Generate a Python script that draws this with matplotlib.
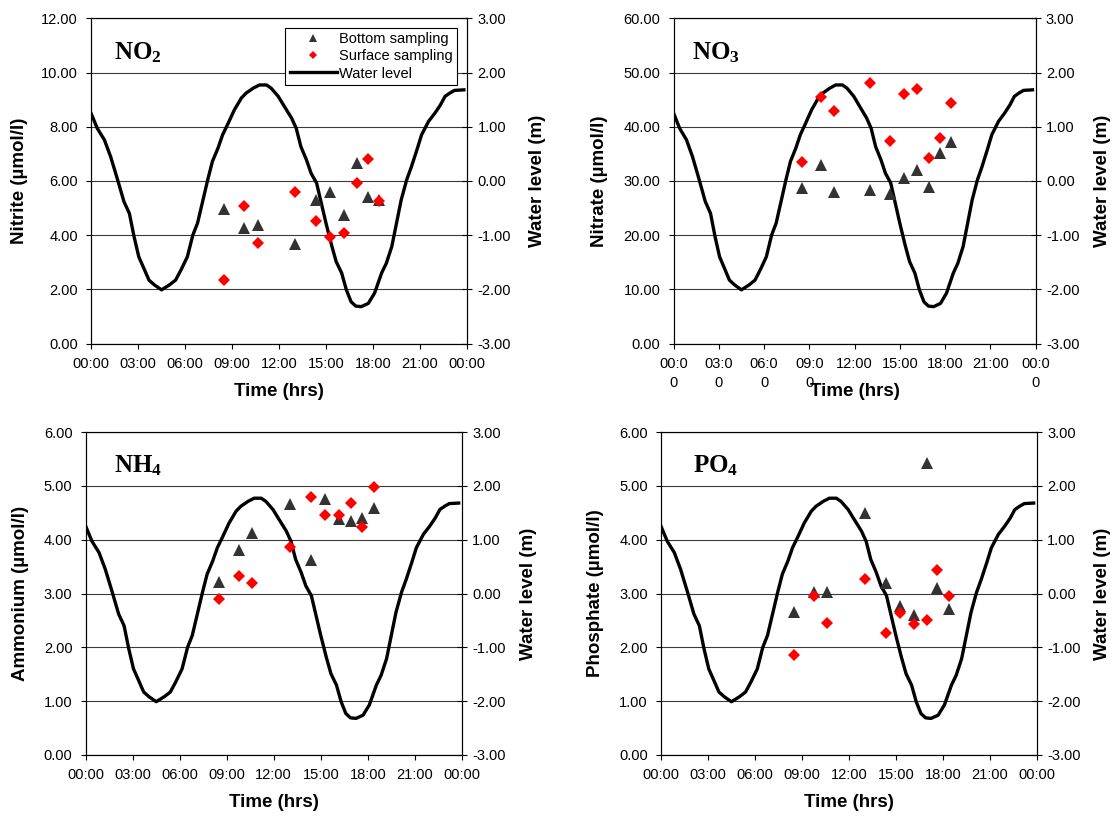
import matplotlib.pyplot as plt
from matplotlib.lines import Line2D

plt.rcParams['font.family'] = ['Liberation Sans', 'DejaVu Sans']
plt.rcParams['mathtext.fontset'] = 'custom'
plt.rcParams['mathtext.bf'] = 'Liberation Serif:bold'
plt.rcParams['mathtext.rm'] = 'Liberation Serif:bold'

# sampling times (hours of the day)
sample_hours = [8.50, 9.77, 10.63, 13.04, 14.37, 15.27, 16.14, 16.96, 17.65, 18.38]

no2_bottom = [4.98, 4.25, 4.37, 3.69, 5.29, 5.60, 4.76, 6.65, 5.42, 5.29]
no2_surface = [2.34, 5.07, 3.72, 5.60, 4.53, 3.94, 4.06, 5.93, 6.79, 5.26]

no3_bottom = [28.6, 32.9, 27.9, 28.3, 27.6, 30.6, 32.0, 28.9, 35.1, 37.2]
no3_surface = [33.4, 45.5, 42.9, 48.0, 37.4, 46.0, 47.0, 34.3, 38.0, 44.3]

nh4_bottom = [3.22, 3.81, 4.13, 4.66, 3.62, 4.76, 4.38, 4.35, 4.40, 4.59]
nh4_surface = [2.90, 3.33, 3.20, 3.86, 4.79, 4.46, 4.46, 4.69, 4.23, 4.97]

po4_bottom = [2.66, 3.03, 3.02, 4.49, 3.19, 2.77, 2.60, 5.43, 3.11, 2.72]
po4_surface = [1.86, 2.95, 2.46, 3.27, 2.26, 2.63, 2.43, 2.50, 3.44, 2.96]

# water level record (m)
tide_hours = [0.0, 0.4, 0.85, 1.25, 1.7, 2.1, 2.45, 2.75, 3.05, 3.4, 3.7, 4.05,
              4.5, 5.0, 5.4, 5.75, 6.15, 6.5, 6.8, 7.15, 7.45, 7.75, 8.1, 8.4,
              8.75, 9.15, 9.6, 9.9, 10.35, 10.75, 11.2, 11.5, 11.95, 12.35,
              12.8, 13.1, 13.4, 13.75, 14.05, 14.4, 14.7, 15.0, 15.35, 15.65,
              16.0, 16.3, 16.6, 16.9, 17.25, 17.7, 18.1, 18.55, 18.85, 19.2,
              19.5, 19.8, 20.15, 20.45, 20.8, 21.1, 21.55, 21.95, 22.3, 22.6,
              22.9, 23.2, 23.8]
tide_level = [1.25, 0.97, 0.76, 0.45, 0.02, -0.38, -0.60, -1.03, -1.40, -1.63,
              -1.83, -1.92, -2.01, -1.92, -1.83, -1.64, -1.40, -1.00, -0.78,
              -0.35, 0.02, 0.36, 0.60, 0.85, 1.06, 1.31, 1.53, 1.62, 1.71, 1.77,
              1.77, 1.71, 1.56, 1.37, 1.16, 0.97, 0.63, 0.39, 0.14, -0.04,
              -0.41, -0.78, -1.18, -1.49, -1.70, -2.01, -2.23, -2.31, -2.32,
              -2.26, -2.07, -1.70, -1.52, -1.21, -0.78, -0.35, 0.02, 0.26, 0.57,
              0.85, 1.10, 1.25, 1.40, 1.56, 1.62, 1.67, 1.68]

time_ticks = [0, 3, 6, 9, 12, 15, 18, 21, 24]
time_labels = ['00:00', '03:00', '06:00', '09:00', '12:00', '15:00', '18:00', '21:00', '00:00']
no3_time_labels = ['00:0\n0', '03:0\n0', '06:0\n0', '09:0\n0', '12:00', '15:00', '18:00', '21:00', '00:0\n0']

W, H = 1120, 817


def rect(left, right, top, bottom):
    return [left / W, 1 - bottom / H, (right - left) / W, (bottom - top) / H]


panels = [
    (r'$\mathbf{NO_2}$', 'Nitrite (µmol/l)', 12, no2_bottom, no2_surface, time_labels,
     rect(91, 467, 18.3, 343.5), -0.19, 1.187, 0.06),
    (r'$\mathbf{NO_3}$', 'Nitrate (µmol/l)', 60, no3_bottom, no3_surface, no3_time_labels,
     rect(673.6, 1035.5, 18.3, 343.5), -0.206, 1.186, 0.05),
    (r'$\mathbf{NH_4}$', 'Ammonium (µmol/l)', 6, nh4_bottom, nh4_surface, time_labels,
     rect(85.7, 461.8, 432, 755), -0.173, 1.178, 0.074),
    (r'$\mathbf{PO_4}$', 'Phosphate (µmol/l)', 6, po4_bottom, po4_surface, time_labels,
     rect(661, 1036.8, 432, 755), -0.174, 1.175, 0.085),
]

fig = plt.figure(figsize=(11.2, 8.17), dpi=100)

for i, (name, ylabel, ymax, bottom, surface, xlabels, pos, ylx, y2x, namex) in enumerate(panels):
    ax = fig.add_axes(pos)
    ax2 = ax.twinx()
    ax.set_zorder(ax2.get_zorder() + 1)
    ax.patch.set_visible(False)

    ax2.plot(tide_hours, tide_level, color='black', lw=2.4, solid_joinstyle='round')
    ax2.set_ylim(-3, 3)
    ax2.set_yticks(range(-3, 4))
    ax2.set_yticklabels([f'{v:.2f}' for v in range(-3, 4)])
    ax2.yaxis.grid(True, color='#3a3a3a', lw=0.8)
    ax2.set_ylabel('Water level (m)', fontsize=13.5, fontweight='bold', va='center')
    ax2.yaxis.set_label_coords(y2x, 0.5)
    ax2.tick_params(axis='y', direction='inout', length=7, width=0.8, labelsize=10.5, pad=4)

    tri, = ax.plot(sample_hours, bottom, '^', color='#333333', ms=8.5, mew=0,
                   label='Bottom sampling')
    dia, = ax.plot(sample_hours, surface, 'D', color='#ff0000', ms=6.5, mew=0,
                   label='Surface sampling')

    ax.set_xlim(0, 24)
    ax.set_ylim(0, ymax)
    yt = [ymax * k / 6 for k in range(7)]
    ax.set_yticks(yt)
    ax.set_yticklabels([f'{v:.2f}' for v in yt])
    ax.set_xticks(time_ticks)
    ax.set_xticklabels(xlabels, linespacing=1.45)
    ax.tick_params(axis='both', direction='out', length=3.5, width=0.8, labelsize=10.5)
    ax.tick_params(axis='x', pad=6)
    ax.tick_params(axis='y', pad=6)
    ax.set_ylabel(ylabel, fontsize=13.5, fontweight='bold', va='center')
    ax.yaxis.set_label_coords(ylx, 0.5)
    ax.set_xlabel('Time (hrs)', fontsize=13.5, fontweight='bold', va='center')
    ax.xaxis.set_label_coords(0.5, -0.148)

    for a in (ax, ax2):
        for s in a.spines.values():
            s.set_linewidth(0.8)
            s.set_color('black')

    ax.text(namex, 0.895, name, transform=ax.transAxes, fontsize=18,
            va='center', ha='left')

    if i == 0:
        wl = Line2D([], [], color='black', lw=2.4)
        leg = ax.legend([tri, dia, wl], ['Bottom sampling', 'Surface sampling', 'Water level'],
                        loc='upper right', bbox_to_anchor=(0.973, 0.971), fontsize=10.5,
                        frameon=True, fancybox=False, framealpha=1, edgecolor='black',
                        handlelength=3.2, handletextpad=0.15, labelspacing=0.22,
                        borderpad=0.3, markerscale=0.65, numpoints=1, borderaxespad=0)
        leg.get_frame().set_linewidth(0.8)

fig.savefig('out.png', dpi=100)
